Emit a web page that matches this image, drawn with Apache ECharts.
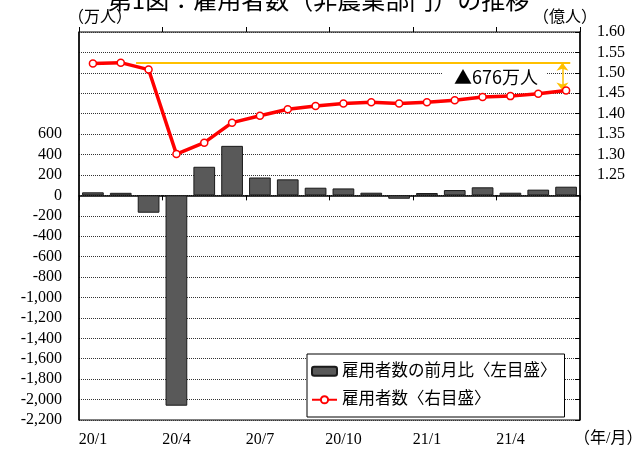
<!DOCTYPE html>
<html>
<head>
<meta charset="utf-8">
<script src="https://cdn.jsdelivr.net/npm/echarts@6/dist/echarts.min.js"></script>
<style>
  html, body { margin: 0; padding: 0; background: #fff; }
  #chart { width: 637px; height: 449px; }
</style>
</head>
<body>
<div id="chart"></div>
<script>
// 月（年/月）
const months = ['20/1', '20/2', '20/3', '20/4', '20/5', '20/6', '20/7', '20/8', '20/9',
  '20/10', '20/11', '20/12', '21/1', '21/2', '21/3', '21/4', '21/5', '21/6']
// 雇用者数の前月比（万人）
const momChange = [30, 25, -170, -2060, 280, 485, 175, 157, 75, 68, 26, -33, 23, 52, 79, 26, 56, 85]
// 雇用者数（億人）
const employed = [1.523, 1.525, 1.508, 1.301, 1.329, 1.378, 1.395, 1.411, 1.419, 1.425,
  1.428, 1.425, 1.428, 1.433, 1.441, 1.443, 1.449, 1.457]
const leftTicks = { min: -2200, max: 1600, interval: 200, labelMax: 600 }
const rightTicks = { min: 0.65, max: 1.6, interval: 0.05, labelMin: 1.25 }
const dropLabel = '▲676万人'
// ピーク比の注記線の範囲（月の位置）
const peakLineFrom = 1.55
const peakLineTo = 17.15
const arrowAt = 16.87

const serif = '"Liberation Serif", "Noto Sans CJK JP", serif'
const gothic = '"Noto Sans CJK JP", sans-serif'

const peak = Math.max(...employed)
const last = employed[employed.length - 1]

const chart = echarts.init(document.getElementById('chart'))

const option = {
  animation: false,
  title: {
    text: '第1図：雇用者数（非農業部門）の推移',
    left: 'center',
    top: -17,
    textStyle: { fontFamily: gothic, fontSize: 24, fontWeight: 'normal', color: '#000' }
  },
  grid: {
    left: 79,
    right: 57,
    top: 32,
    bottom: 29,
    containLabel: false,
    outerBoundsMode: 'none',
    show: true,
    borderColor: '#000',
    borderWidth: 1
  },
  legend: {
    left: 307,
    top: 354,
    orient: 'vertical',
    backgroundColor: '#fff',
    borderColor: '#000',
    borderWidth: 1,
    borderRadius: 0,
    padding: [9, 8, 9, 4],
    itemGap: 12,
    itemWidth: 25,
    itemHeight: 9,
    textStyle: { fontFamily: serif, fontSize: 16.5, color: '#000' },
    data: ['雇用者数の前月比〈左目盛〉', '雇用者数〈右目盛〉']
  },
  xAxis: [
    {
      type: 'category',
      data: months,
      position: 'bottom',
      axisLine: { onZero: true, lineStyle: { color: '#000', width: 1.5 } },
      axisTick: { show: true, interval: 2, length: 5, lineStyle: { color: '#000', width: 1 } },
      axisLabel: {
        interval: 2,
        margin: 12,
        fontFamily: serif,
        fontSize: 16,
        color: '#000'
      }
    },
    {
      // 月位置（連続値）：上向きの目盛と注記線用
      type: 'value',
      position: 'top',
      min: -0.5,
      max: months.length - 0.5,
      interval: 3,
      axisLine: { show: false, onZero: true },
      axisTick: { show: true, length: 5, lineStyle: { color: '#000', width: 1 } },
      axisLabel: { show: false },
      splitLine: { show: false }
    }
  ],
  yAxis: [
    {
      type: 'value',
      min: leftTicks.min,
      max: leftTicks.max,
      interval: leftTicks.interval,
      axisLine: { show: true, onZero: false, lineStyle: { color: '#000', width: 1.5 } },
      axisTick: { show: false },
      splitLine: { show: true, lineStyle: { color: '#333', type: 'dotted', width: 1 } },
      axisLabel: {
        margin: 17,
        fontFamily: serif,
        fontSize: 16,
        color: '#000',
        formatter: v => (v <= leftTicks.labelMax ? v.toLocaleString('en-US') : '')
      }
    },
    {
      type: 'value',
      min: rightTicks.min,
      max: rightTicks.max,
      interval: rightTicks.interval,
      axisLine: { show: true, onZero: false, lineStyle: { color: '#000', width: 1.5 } },
      axisTick: { show: true, inside: true, length: 5, lineStyle: { color: '#000' } },
      splitLine: { show: false },
      axisLabel: {
        margin: 17,
        fontFamily: serif,
        fontSize: 16,
        color: '#000',
        formatter: v => (v >= rightTicks.labelMin - 1e-6 ? v.toFixed(2) : '')
      }
    }
  ],
  graphic: [
    { type: 'text', left: 68, top: 10, style: { text: '（万人）', font: '16px ' + serif, fill: '#000' } },
    { type: 'text', left: 533, top: 10, style: { text: '（億人）', font: '16px ' + serif, fill: '#000' } },
    { type: 'text', left: 574, top: 431, style: { text: '（年/月）', font: '16px ' + serif, fill: '#000' } },
    {
      type: 'text',
      left: 443,
      top: 67,
      z: 10,
      style: {
        text: dropLabel,
        font: '18px ' + gothic,
        fill: '#000',
        backgroundColor: '#fff',
        padding: [1, 8, 1, 11]
      }
    }
  ],
  series: [
    {
      name: '雇用者数の前月比〈左目盛〉',
      type: 'bar',
      xAxisIndex: 0,
      yAxisIndex: 0,
      data: momChange,
      barCategoryGap: '22%',
      itemStyle: { color: '#595959', borderColor: '#1a1a1a', borderWidth: 1 }
    },
    {
      name: '雇用者数〈右目盛〉',
      type: 'line',
      xAxisIndex: 0,
      yAxisIndex: 1,
      data: employed,
      z: 5,
      symbol: 'circle',
      symbolSize: 7,
      lineStyle: { color: '#ff0000', width: 3.5 },
      itemStyle: { color: '#fff', borderColor: '#ff0000', borderWidth: 1.5 }
    },
    {
      // ピークからの減少幅の注記
      name: 'peakNote',
      type: 'line',
      xAxisIndex: 1,
      yAxisIndex: 1,
      data: [],
      markLine: {
        silent: true,
        animation: false,
        symbol: 'none',
        label: { show: false },
        data: [
          [
            { coord: [peakLineFrom, peak], lineStyle: { color: '#ffc000', width: 2, type: 'solid' } },
            { coord: [peakLineTo, peak] }
          ],
          [
            { coord: [arrowAt, peak], symbol: 'arrow', symbolSize: [9, 8], lineStyle: { color: '#ffc000', width: 1.5, type: 'solid' } },
            { coord: [arrowAt, last], symbol: 'arrow', symbolSize: [9, 8] }
          ]
        ]
      }
    }
  ]
}

chart.setOption(option)
</script>
</body>
</html>
